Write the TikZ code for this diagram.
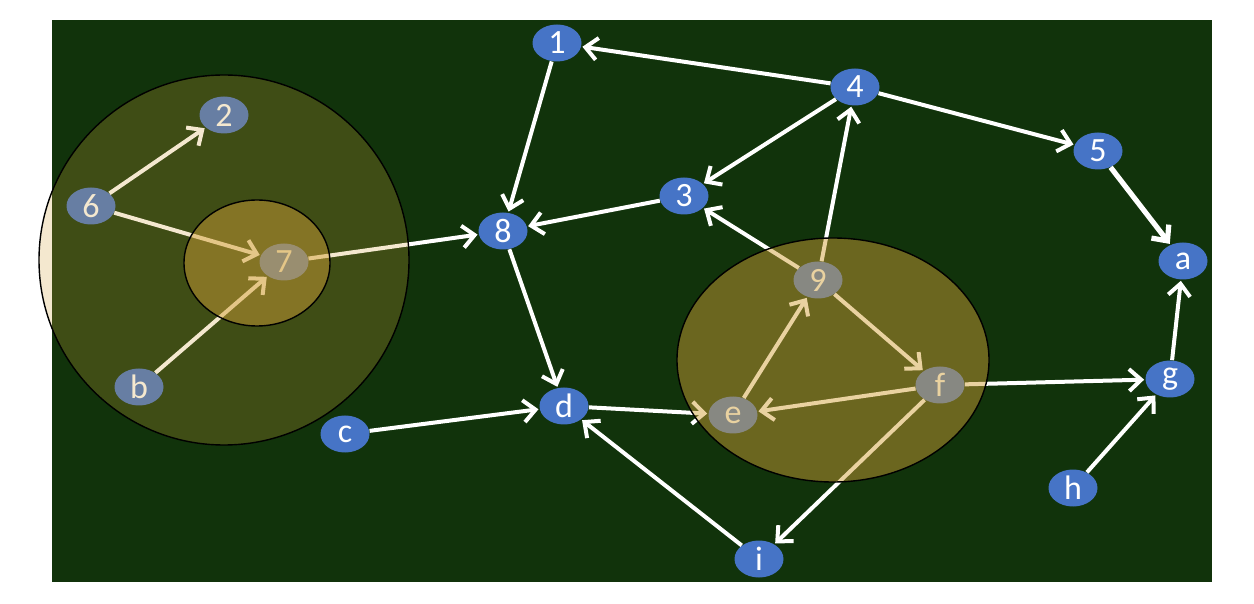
\documentclass[tikz,border=0pt]{standalone}
\usepackage{fontspec}
\setmainfont{Carlito}
\usetikzlibrary{shapes.geometric,arrows.meta}
\definecolor{board}{RGB}{17,51,11}
\definecolor{nodeblue}{RGB}{70,116,198}
\definecolor{tint}{RGB}{210,160,55}
\tikzset{
  vertex/.style={ellipse, fill=nodeblue, text=white, minimum width=24.5pt,
    minimum height=18.5pt, inner sep=0pt, font=\fontsize{17}{20}\selectfont},
  edge/.style={draw=white, line width=2pt,
    -{Straight Barb[length=6pt,width=11pt]}, shorten >=0.5pt},
  zone/.style={draw=black, line width=0.7pt}
}
\begin{document}
\begin{tikzpicture}[x=0.5pt,y=-0.5pt]
        \useasboundingbox (0,0) rectangle (1254,604);
        \fill[board] (52,20) rectangle (1212,582);
        \foreach \n/\x/\y in {1/557/43,2/224/115,3/684/196,4/855/87,5/1098/151,
                              6/91/206,7/284/262,8/503/231,9/818/280,a/1183/261,
                              b/139/387,c/345/434,d/564/406,e/733/415,f/940/385,
                              g/1170/379,h/1073/488,i/759/559} {
            \node[vertex] (v\n) at (\x,\y) {\n};
        }
        \foreach \s/\t in {4/1,4/5,4/3,9/4,9/3,3/8,1/8,7/8,8/d,6/2,6/7,b/7,
                           c/d,d/e,i/d,f/i,e/9,9/f,f/e,f/g,h/g,g/a} {
            \draw[edge] (v\s) -- (v\t);
        }
        \draw[edge, line width=2.6pt] (v5) -- (va);
        % highlighted regions
        \fill[tint, fill opacity=0.24] (224,260) circle [radius=185];
        \fill[tint, fill opacity=0.47] (257,263) ellipse [x radius=73, y radius=63];
        \fill[tint, fill opacity=0.47] (833,360) ellipse [x radius=156, y radius=122];
        \draw[zone] (224,260) circle [radius=185];
        \draw[zone] (257,263) ellipse [x radius=73, y radius=63];
        \draw[zone] (833,360) ellipse [x radius=156, y radius=122];
        \end{tikzpicture}
\end{document}
